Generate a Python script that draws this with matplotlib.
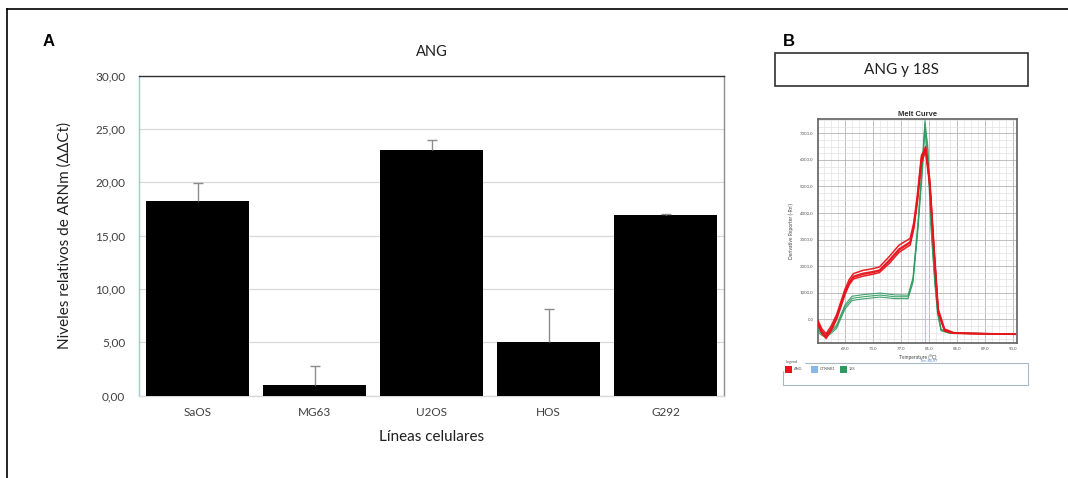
import matplotlib
matplotlib.use("Agg")
import matplotlib.pyplot as plt
from matplotlib.lines import Line2D
from matplotlib.patches import Rectangle
from matplotlib.ticker import FuncFormatter, MultipleLocator

# ---------------- Panel A data: relative ANG mRNA levels ----------------
cell_lines = ["SaOS", "MG63", "U2OS", "HOS", "G292"]
ang_levels = [18.3, 1.0, 23.0, 5.0, 16.9]
ang_sd = [1.6, 1.78, 1.0, 3.13, 0.16]
y_ticks = [0, 5, 10, 15, 20, 25, 30]

# ---------------- Panel B data: melt curves (derivative reporter) ----------------
ang_temp = [65.1, 65.7, 66.3, 67.0, 67.8, 68.4, 69.0, 69.6, 70.2, 71.5, 73.0, 73.9,
            75.3, 76.7, 78.3, 78.8, 79.3, 79.9, 80.5, 81.1, 81.7, 82.3, 83.2,
            84.5, 87.0, 90.0, 93.3]
ang_rep1 = [-90, -450, -630, -350, 90, 560, 1040, 1400, 1620, 1730, 1800, 1855,
            2230, 2650, 2920, 3500, 4490, 6060, 6500, 5130, 2610, 300, -400,
            -510, -530, -545, -560]
ang_rep2 = [-180, -540, -720, -440, 0, 460, 940, 1300, 1520, 1620, 1700, 1760,
            2100, 2520, 2800, 3400, 4360, 5880, 6330, 4980, 2480, 240, -440,
            -525, -540, -550, -565]
ang_rep3 = [-20, -360, -540, -260, 180, 660, 1140, 1500, 1720, 1840, 1910, 1970,
            2360, 2790, 3050, 3630, 4630, 6170, 6440, 5260, 2760, 390, -360,
            -500, -525, -540, -555]
ang_rep4 = [-120, -480, -660, -380, 60, 520, 1000, 1360, 1580, 1690, 1760, 1820,
            2180, 2600, 2880, 3460, 4440, 5980, 6420, 5080, 2560, 280, -410,
            -515, -535, -548, -560]

s18_temp = [65.1, 65.7, 66.3, 67.0, 67.8, 68.4, 69.0, 70.0, 71.6, 74.0, 76.1, 78.0,
            78.7, 79.4, 80.1, 80.4, 80.8, 81.3, 81.8, 82.2, 82.7, 84.0, 87.0,
            90.0, 93.3]
s18_rep1 = [-400, -540, -590, -470, -280, 100, 470, 790, 850, 915, 850, 850,
            1480, 3490, 6000, 7470, 6370, 3490, 1500, 300, -400, -520, -530,
            -540, -550]
s18_rep2 = [-460, -610, -660, -530, -340, 30, 390, 710, 770, 840, 780, 780,
            1390, 3340, 5790, 7150, 6100, 3300, 1380, 220, -430, -530, -540,
            -545, -555]
s18_rep3 = [-340, -480, -530, -410, -210, 170, 550, 870, 930, 990, 920, 910,
            1570, 3630, 6210, 7350, 6550, 3650, 1620, 380, -370, -510, -520,
            -535, -545]
melt_yticks = [0, 1000, 2000, 3000, 4000, 5000, 6000, 7000]
melt_xticks = [69, 73, 77, 81, 85, 89, 93]
legend_names = ["ANG", "CTNNB1", "18S"]

W, H = 1068, 478
plt.rcParams["font.family"] = ["Lato", "DejaVu Sans"]
fig = plt.figure(figsize=(W / 100, H / 100), dpi=100)


def fx(px):
    return px / W


def fy(py):
    return 1 - py / H


# outer frame (left and top edges)
fig.add_artist(Line2D([fx(7), fx(7)], [fy(9), fy(478)], color="black", lw=1.2))
fig.add_artist(Line2D([fx(7), fx(1068)], [fy(9), fy(9)], color="black", lw=1.2))

# ---------------- Panel A ----------------
ax = fig.add_axes([fx(139), fy(395.7), fx(724) - fx(139), fy(75.7) - fy(395.7)])
x = list(range(len(cell_lines)))
ax.bar(x, ang_levels, width=0.877, color="black", zorder=3)
# upper error bars only, with a cap at the top
err_top = [v + e for v, e in zip(ang_levels, ang_sd)]
ax.vlines(x, ang_levels, err_top, color="#8c8c8c", lw=1.0, zorder=4)
ax.plot(x, err_top, ls="none", marker="_", ms=7, mew=1.0, color="#8c8c8c", zorder=4)
ax.set_xlim(-0.5, len(cell_lines) - 0.5)
ax.set_ylim(0, 30)
ax.set_yticks(y_ticks)
ax.yaxis.set_major_formatter(FuncFormatter(lambda v, p: f"{v:.2f}".replace(".", ",")))
ax.set_xticks(x)
ax.set_xticklabels(cell_lines)
ax.tick_params(axis="both", length=0, labelsize=8.5, colors="#404040", pad=8)
ax.tick_params(axis="y", pad=10)
ax.grid(axis="y", color="#d9d9d9", lw=0.9, zorder=0)
ax.spines["left"].set_color("#9dc3e6")
ax.spines["bottom"].set_color("#d9d9d9")
ax.spines["top"].set_color("#303030")
ax.spines["right"].set_color("#8c8c8c")
for s in ax.spines.values():
    s.set_linewidth(1.0)
ax.set_ylabel("Niveles relativos de ARNm (ΔΔCt)", fontsize=11, color="#202020", labelpad=17)
ax.set_xlabel("Líneas celulares", fontsize=11, color="#202020", labelpad=9)
ax.set_title("ANG", fontsize=10.5, color="#202020", pad=14)

fig.text(fx(43), fy(41), "A", fontsize=12, fontweight="bold", family="Liberation Sans",
         va="center", ha="left")

# ---------------- Panel B ----------------
fig.text(fx(783), fy(41), "B", fontsize=12, fontweight="bold", family="Liberation Sans",
         va="center", ha="left")
fig.add_artist(Rectangle((fx(775), fy(86)), fx(1028) - fx(775), fy(53) - fy(86),
                         transform=fig.transFigure, fill=False, ec="#303030", lw=1.2))
fig.text(fx(901.5), fy(70), "ANG y 18S", fontsize=11, color="#202020",
         ha="center", va="center")

mx = fig.add_axes([fx(817.7), fy(343), fx(1016.7) - fx(817.7), fy(119) - fy(343)])
red = "#e8141c"
green = "#2e9a60"
for rep in (s18_rep1, s18_rep2, s18_rep3):
    mx.plot(s18_temp, rep, color=green, lw=0.8, alpha=0.9, zorder=3)
for rep in (ang_rep1, ang_rep2, ang_rep3, ang_rep4):
    mx.plot(ang_temp, rep, color=red, lw=1.1, alpha=0.95, zorder=4)
mx.axvline(80.4, color="#9fd3dd", lw=0.8, zorder=2)
mx.set_xlim(65.1, 93.5)
mx.set_ylim(-890, 7540)
mx.set_xticks(melt_xticks)
mx.set_xticklabels([f"{t:.1f}" for t in melt_xticks])
mx.set_yticks(melt_yticks)
mx.set_yticklabels([f"{t:.1f}" for t in melt_yticks])
mx.xaxis.set_minor_locator(MultipleLocator(1))
mx.yaxis.set_minor_locator(MultipleLocator(250))
mx.grid(which="major", color="#b4b4b4", lw=0.6, zorder=0)
mx.grid(which="minor", color="#e2e2e2", lw=0.5, zorder=0)
mx.tick_params(which="both", length=0, labelsize=3.2, colors="#555555", pad=3)
for s in mx.spines.values():
    s.set_color("#606060")
    s.set_linewidth(1.2)
mx.set_title("Melt Curve", fontsize=5.5, fontweight="bold", color="#303030", pad=2,
             family="Liberation Sans")
mx.set_xlabel("Temperature (°C)", fontsize=3.5, color="#444444", labelpad=2)
mx.set_ylabel("Derivative Reporter (-Rn')", fontsize=3.5, color="#444444", labelpad=4)
mx.text(81.0, -1550, "Tm: 80.97", fontsize=2.8, color="#4a7fc0", ha="center",
        va="center", clip_on=False)

# legend strip below the melt curve
fig.add_artist(Rectangle((fx(783), fy(385)), fx(1027.7) - fx(783), fy(363) - fy(385),
                         transform=fig.transFigure, fill=False, ec="#a9b8c6", lw=0.8))
fig.text(fx(786), fy(362), "Legend", fontsize=2.8, color="#555555", ha="left",
         va="center", backgroundcolor="white", zorder=1)
leg_colors = [red, "#8ab8e6", green]
leg_x = [785, 811, 840]
for name, col, lx in zip(legend_names, leg_colors, leg_x):
    fig.add_artist(Rectangle((fx(lx), fy(373)), fx(7), fy(366) - fy(373),
                             transform=fig.transFigure, fc=col, ec="none", zorder=5))
    fig.text(fx(lx + 9), fy(369.5), name, fontsize=2.8, color="#555555",
             ha="left", va="center")

fig.savefig("out.png", dpi=100)
